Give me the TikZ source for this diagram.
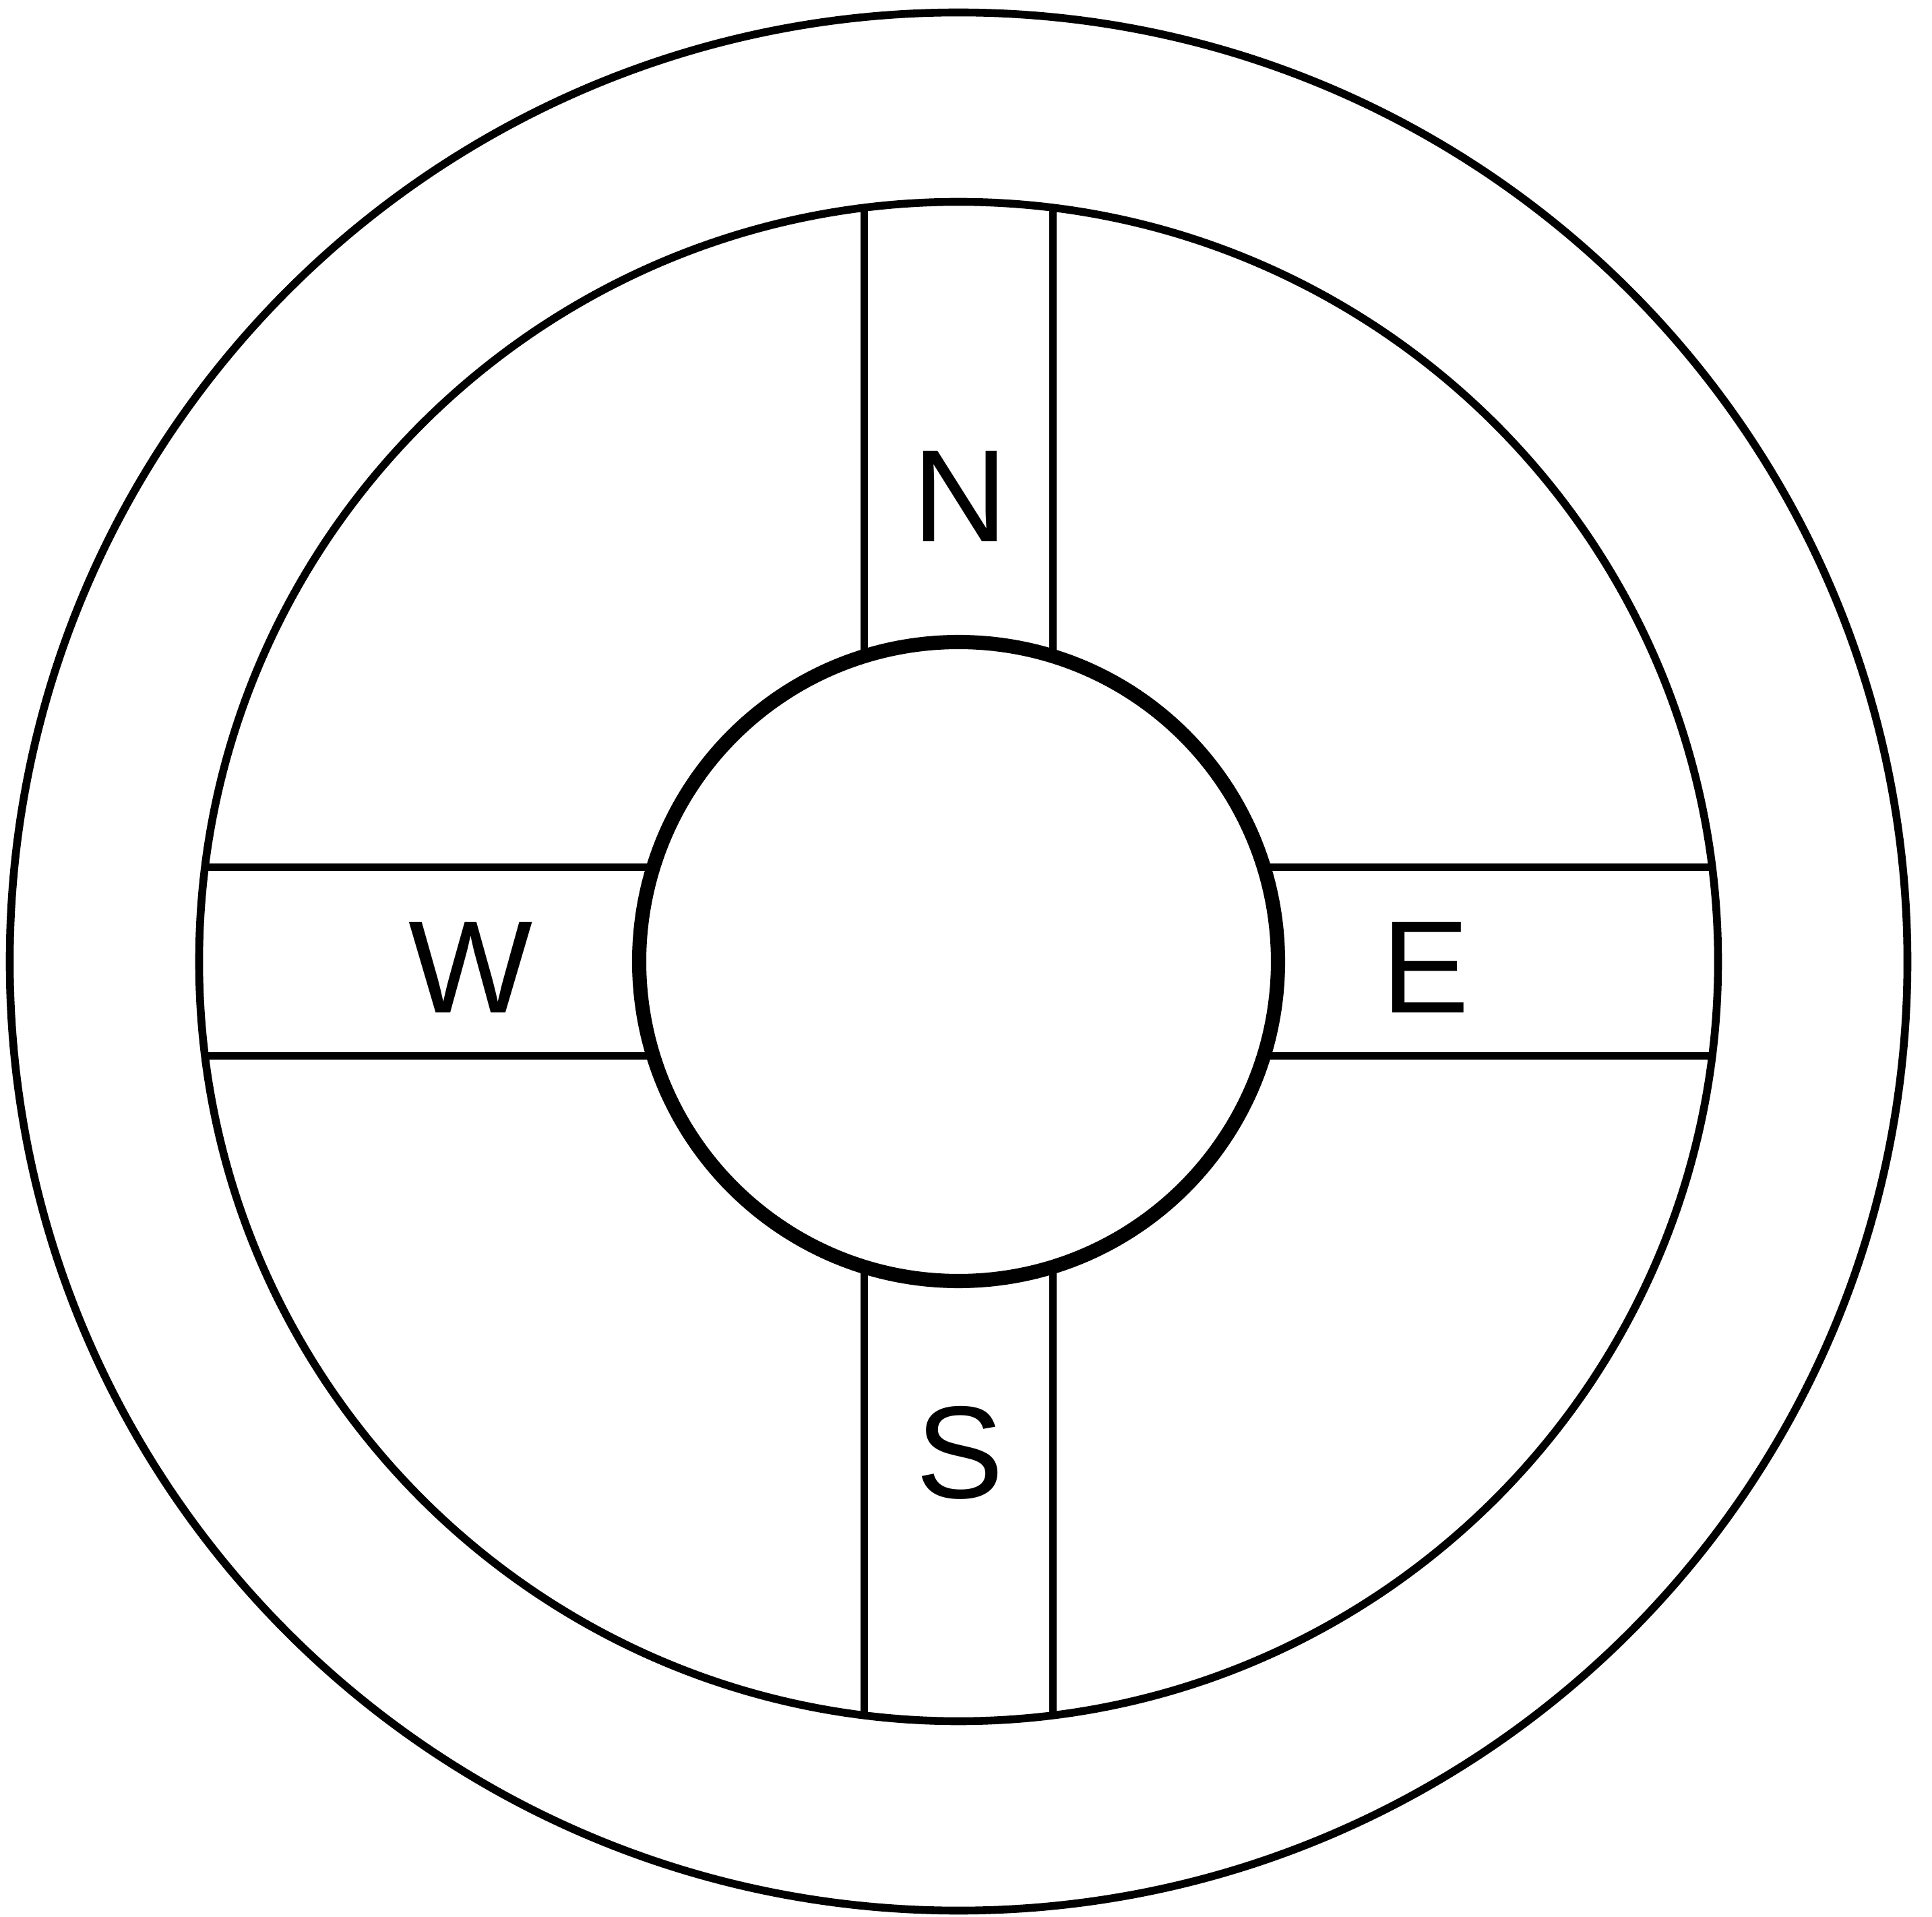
\documentclass[tikz,border=0pt]{standalone}
\usepackage{fontspec}
\setmainfont{Liberation Sans}

\begin{document}
\begin{tikzpicture}[line width=3.3pt]
    \useasboundingbox (-14.225,-14.175) rectangle (14.445,14.265);

    % spokes between hub and ring
    \foreach \r in {0,90,180,270}
      \foreach \s in {-1.4,1.4}
        \draw[rotate=\r] (\s,4.53) -- (\s,11.18);

    \node[draw, circle, minimum size=28.16cm, inner sep=0pt] (rim) at (0,0) {};
    \node[draw, circle, minimum size=22.54cm, inner sep=0pt] (ring) at (0,0) {};
    \node[draw, fill=white, circle, minimum size=9.48cm, inner sep=0pt, line width=6pt] (hub) at (0,0) {};

    \node[font=\fontsize{55.5}{62}\selectfont] (north) at (0.02,6.9) {N};
    \node[font=\fontsize{55.5}{62}\selectfont] (south) at (0.02,-7.29) {S};
    \node[font=\fontsize{55.5}{62}\selectfont] (west) at (-7.24,-0.09) {W};
    \node[font=\fontsize{55.5}{62}\selectfont] (east) at (6.93,-0.09) {E};
\end{tikzpicture}
\end{document}
